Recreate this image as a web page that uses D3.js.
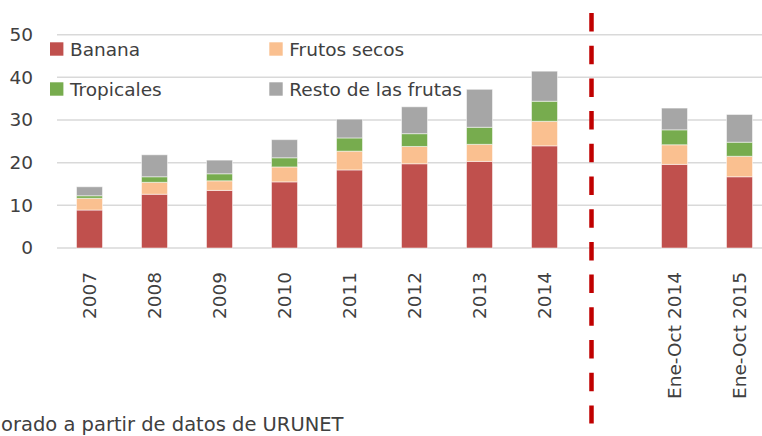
<!DOCTYPE html>
<html>
<head>
<meta charset="utf-8">
<script src="https://cdn.jsdelivr.net/npm/d3@7"></script>
<style>
  body { margin: 0; background: #fff; }
  text { font-family: 'DejaVu Sans', sans-serif; fill: #404040; }
</style>
</head>
<body>
<div id="chart"></div>
<script>
// Values
const periods = ['2007', '2008', '2009', '2010', '2011', '2012', '2013', '2014', 'Ene-Oct 2014', 'Ene-Oct 2015'];
const banana      = [8.9, 12.6, 13.5, 15.5, 18.3, 19.75, 20.3, 23.95, 19.6, 16.7];
const frutosSecos = [2.75, 2.8, 2.25, 3.5, 4.4, 4.05, 4.0, 5.75, 4.6, 4.8];
const tropicales  = [0.6, 1.3, 1.65, 2.15, 3.1, 3.0, 4.0, 4.7, 3.5, 3.3];
const resto       = [2.1, 5.15, 3.2, 4.25, 4.4, 6.3, 8.9, 7.05, 5.1, 6.5];
const seriesNames = ['Banana', 'Frutos secos', 'Tropicales', 'Resto de las frutas'];
const seriesColors = ['#C0504D', '#FAC090', '#77AC4E', '#A6A6A6'];
const yTicks = [0, 10, 20, 30, 40, 50];
// the reference shows the note already cut at its left edge
const sourceNote = 'orado a partir de datos de URUNET';

const width = 762, height = 436;
const svg = d3.select('#chart').append('svg')
  .attr('width', width)
  .attr('height', height);

// blank slot between annual and partial-year data
const domain = periods.slice(0, 8).concat(['__sep__'], periods.slice(8));
const x = d3.scaleBand()
  .domain(domain)
  .range([57, 772])
  .paddingInner(0.6)
  .paddingOuter(0.3);

const y = d3.scaleLinear().domain([0, 50]).range([248, 34.7]);

// gridlines
svg.append('g')
  .selectAll('line')
  .data(yTicks)
  .enter().append('line')
  .attr('x1', 57)
  .attr('x2', width)
  .attr('y1', d => y(d))
  .attr('y2', d => y(d))
  .attr('stroke', '#D9D9D9')
  .attr('stroke-width', 1.5);

// y tick labels
svg.append('g')
  .selectAll('text')
  .data(yTicks)
  .enter().append('text')
  .attr('x', 33)
  .attr('y', d => y(d))
  .attr('dy', '0.35em')
  .attr('text-anchor', 'end')
  .style('font-size', '18.5px')
  .text(d => d);

// stacked bars
const rows = periods.map((p, i) => ({
  period: p,
  'Banana': banana[i],
  'Frutos secos': frutosSecos[i],
  'Tropicales': tropicales[i],
  'Resto de las frutas': resto[i]
}));
const stacked = d3.stack().keys(seriesNames)(rows);

svg.append('g')
  .selectAll('g')
  .data(stacked)
  .enter().append('g')
  .attr('fill', (d, i) => seriesColors[i])
  .selectAll('rect')
  .data(d => d)
  .enter().append('rect')
  .attr('x', d => x(d.data.period))
  .attr('width', x.bandwidth())
  .attr('y', d => y(d[1]))
  .attr('height', d => y(d[0]) - y(d[1]))
  .attr('stroke', '#fff')
  .attr('stroke-opacity', 0.5)
  .attr('stroke-width', 1);

// rotated category labels
svg.append('g')
  .selectAll('text')
  .data(periods)
  .enter().append('text')
  .attr('transform', d => `translate(${x(d) + x.bandwidth() / 2},272) rotate(-90)`)
  .attr('dy', '0.35em')
  .attr('text-anchor', 'end')
  .style('font-size', '18.5px')
  .text(d => d);

// legend (2 x 2)
const legend = svg.append('g');
seriesNames.forEach((name, i) => {
  const lx = i % 2 === 0 ? 50 : 269.3;
  const ly = i < 2 ? 49 : 89;
  legend.append('rect')
    .attr('x', lx)
    .attr('y', ly - 6.7)
    .attr('width', 13.4)
    .attr('height', 13.4)
    .attr('fill', seriesColors[i]);
  legend.append('text')
    .attr('x', lx + 20)
    .attr('y', ly + 6.7)
    .style('font-size', '18.5px')
    .text(name);
});

// red dashed separator
const sepX = x('__sep__') - 5;
svg.append('line')
  .attr('x1', sepX).attr('x2', sepX)
  .attr('y1', 13).attr('y2', 423.5)
  .attr('stroke', '#C00000')
  .attr('stroke-width', 4.5)
  .attr('stroke-dasharray', '18.5 14.2');

// source note
svg.append('text')
  .attr('x', 1)
  .attr('y', 430.5)
  .style('font-size', '19.5px')
  .text(sourceNote);
</script>
</body>
</html>
